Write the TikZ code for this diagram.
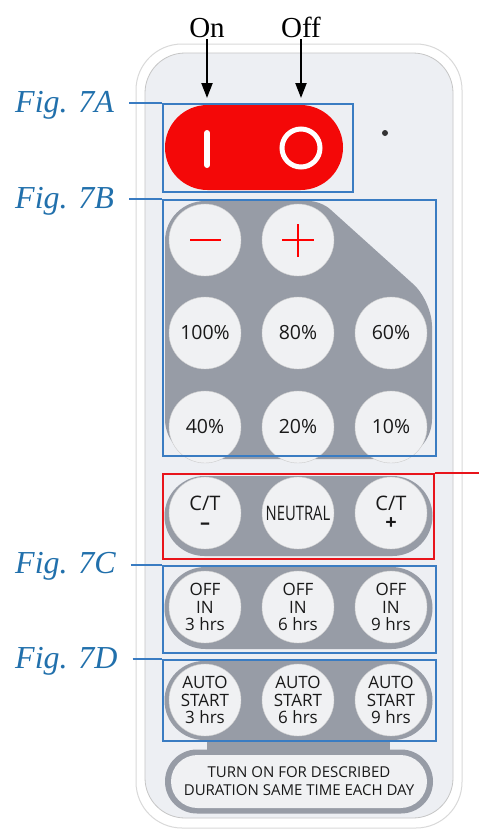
\documentclass[tikz,border=0pt]{standalone}
\usepackage{fontspec}
\usepackage{graphicx}
\setmainfont{Liberation Serif}
\newfontfamily\keyfont{Open Sans}
\usepackage{tikz}
\usetikzlibrary{shapes,arrows.meta,positioning}
\definecolor{boxblue}{HTML}{3A7CC2}
\definecolor{labblue}{HTML}{2170AC}
\definecolor{keygray}{HTML}{979CA6}
\definecolor{faceclr}{HTML}{EDEFF3}
\definecolor{keyclr}{HTML}{F0F1F3}
\definecolor{pillred}{HTML}{F40808}
\definecolor{boxred}{HTML}{E8141B}
\tikzstyle{key} = [circle, draw=gray!40, fill=keyclr, minimum size=72pt, inner sep=0pt, align=center, text=black!90, font=\keyfont\fontsize{19.5}{19}\selectfont]
\tikzstyle{smallkey} = [key, font=\keyfont\fontsize{17}{17.5}\selectfont]
\tikzstyle{figbox} = [draw=boxblue, line width=1.8pt, inner sep=0pt, anchor=north west]
\tikzstyle{figlabel} = [text=labblue, anchor=base west, inner xsep=15pt, inner ysep=0pt, font=\itshape\fontsize{32}{32}\selectfont]
\tikzstyle{keyrow} = [rounded rectangle, fill=keygray, minimum width=268pt, inner sep=0pt]

\begin{document}
\begin{tikzpicture}[x=1pt,y=-1pt]
\useasboundingbox (0,0) rectangle (479,831);
\fill[white] (0,0) rectangle (479,831);
% remote body
\draw[fill=white, draw=gray!30, line width=1pt, rounded corners=46] (136,44) rectangle (462,828);
\draw[fill=faceclr, draw=gray!45, line width=0.8pt, rounded corners=40] (145,53) rectangle (453,818);
% on/off switch
\node[rounded rectangle, fill=pillred, minimum width=178pt, minimum height=85pt, inner sep=0pt] (switch) at (254,147.5) {};
\draw[white, line width=6pt, line cap=round] (207,133) -- (207,165);
\draw[white, line width=5pt] (301,148) circle (19);
\fill[black!80] (385,133) circle (3);
% key panels
\fill[keygray, rounded corners=40] (165,330) -- (165,201) [rounded corners=12] -- (321,201) [rounded corners=25] -- (432,301) [rounded corners=40] -- (432,459) -- (165,459) -- cycle;
\node[keyrow, minimum height=80pt] (rowC) at (298.5,516) {};
\node[keyrow, minimum height=82pt] (rowO) at (298.5,608) {};
\node[keyrow, minimum height=79pt] (rowD) at (298.5,700.5) {};
\fill[keygray] (207,730) rectangle (390,760);
\node[rounded rectangle, fill=keygray, minimum width=268pt, minimum height=64pt, inner sep=0pt] (daily) at (299,781.5) {};
\node[rounded rectangle, fill=keyclr, minimum width=256pt, minimum height=53pt, inner sep=0pt, align=center, text=black!90, font=\keyfont\fontsize{15}{18}\selectfont] (dailytxt) at (299,781.5) {TURN ON FOR DESCRIBED\\DURATION SAME TIME EACH DAY};
% keys
\node[key] (minus) at (205,240) {};
\node[key] (plus) at (298,240) {};
\draw[red, line width=2.5pt] (190,240) -- (221,240);
\draw[red, line width=2.5pt] (282,240) -- (314,240);
\draw[red, line width=2.5pt] (298,224) -- (298,257);
\node[key] (k100) at (205,333) {100\%};
\node[key] (k80) at (298,333) {80\%};
\node[key] (k60) at (391,333) {60\%};
\node[key] (k40) at (205,427) {40\%};
\node[key] (k20) at (298,427) {20\%};
\node[key] (k10) at (391,427) {10\%};
\node[key, font=\keyfont\fontsize{20}{16}\selectfont] (ctm) at (205,513) {C/T\\[3pt]\textbf{–}};
\node[key, font=\keyfont\fontsize{20}{20}\selectfont] (neutral) at (298,513) {\scalebox{0.74}[1]{NEUTRAL}};
\node[key, font=\keyfont\fontsize{20}{16}\selectfont] (ctp) at (391,513) {C/T\\[3pt]\textbf{+}};
\node[smallkey] (off3) at (205,607) {OFF\\IN\\3 hrs};
\node[smallkey] (off6) at (298,607) {OFF\\IN\\6 hrs};
\node[smallkey] (off9) at (391,607) {OFF\\IN\\9 hrs};
\node[smallkey] (auto3) at (205,700) {AUTO\\START\\3 hrs};
\node[smallkey] (auto6) at (298,700) {AUTO\\START\\6 hrs};
\node[smallkey] (auto9) at (391,700) {AUTO\\START\\9 hrs};
% figure boxes
\node[figbox, minimum width=190pt, minimum height=88pt] (boxA) at (162,103) {};
\node[figbox, minimum width=273pt, minimum height=256pt] (boxB) at (162,199) {};
\node[figbox, draw=boxred, minimum width=271pt, minimum height=85pt] (boxR) at (162,473) {};
\node[figbox, minimum width=273pt, minimum height=87pt] (boxC) at (162,565) {};
\node[figbox, minimum width=273pt, minimum height=81pt] (boxD) at (162,659) {};
% labels
\node[figlabel] (labA) at (0,112) {Fig. 7A};
\node[figlabel] (labB) at (0,208) {Fig. 7B};
\node[figlabel] (labC) at (0,573) {Fig. 7C};
\node[figlabel] (labD) at (0,668) {Fig. 7D};
\draw[boxblue, line width=1.8pt] (labA.east |- boxA.north west) -- (boxA.north west);
\draw[boxblue, line width=1.8pt] (labB.east |- boxB.north west) -- (boxB.north west);
\draw[boxblue, line width=1.8pt] (labC.east |- boxC.north west) -- (boxC.north west);
\draw[boxblue, line width=1.8pt] (labD.east |- boxD.north west) -- (boxD.north west);
\coordinate (redend) at (479,473);
\draw[boxred, line width=1.8pt] (boxR.north east) -- (redend);
% on / off arrows
\node[anchor=base, inner sep=2pt, font=\fontsize{29}{29}\selectfont] (on) at (207,37) {On};
\node[anchor=base, inner sep=2pt, font=\fontsize{29}{29}\selectfont] (off) at (301,37) {Off};
\coordinate (onpt) at (207,98);
\coordinate (offpt) at (301,98);
\draw[line width=2.2pt, -{Triangle[width=11pt,length=15pt]}] (on.south) -- (onpt);
\draw[line width=2.2pt, -{Triangle[width=11pt,length=15pt]}] (off.south) -- (offpt);
\end{tikzpicture}
\end{document}
